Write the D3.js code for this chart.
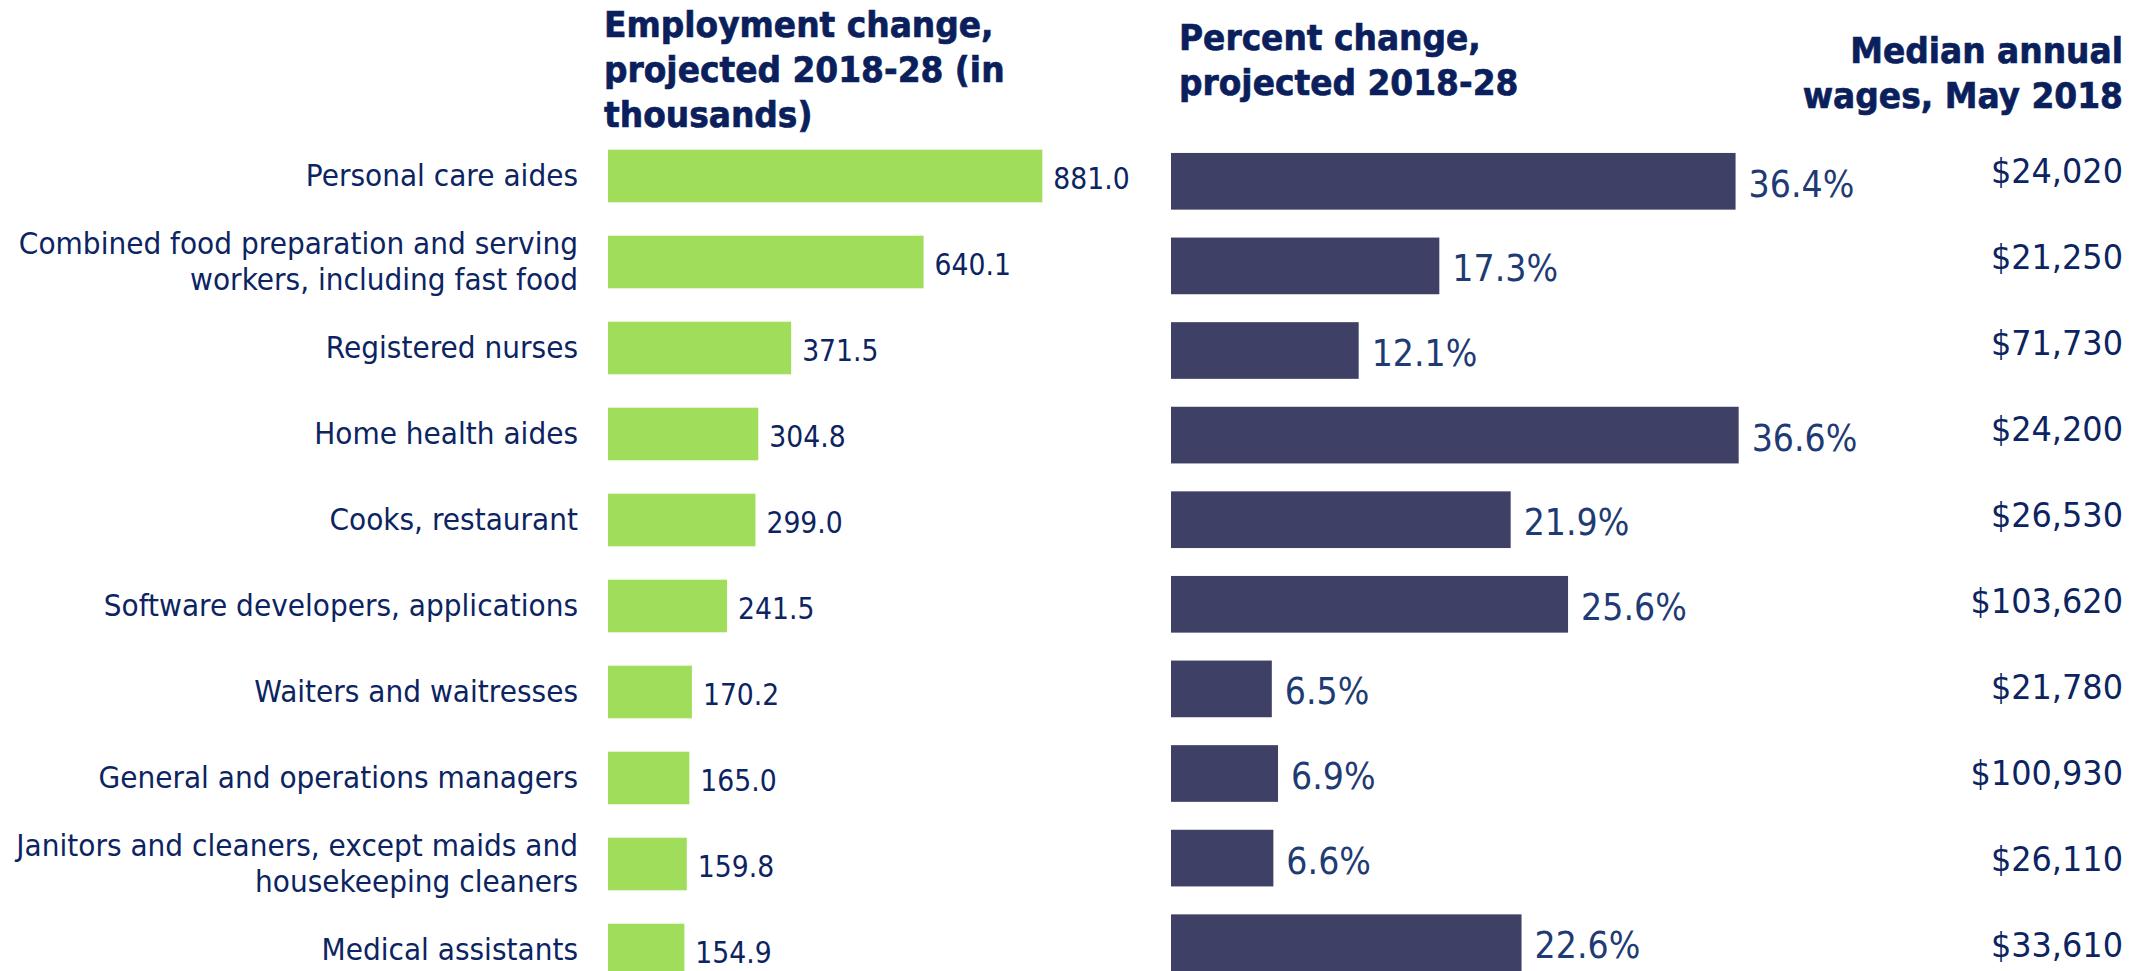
<!DOCTYPE html>
<html>
<head>
<meta charset="utf-8">
<script src="https://cdn.jsdelivr.net/npm/d3@7"></script>
<style>
  html, body { margin: 0; padding: 0; background: #fff; }
  svg { display: block; }
</style>
</head>
<body>
<svg id="chart"></svg>
<script>
/* Fastest-growing occupations: employment change, percent change and wages.
 * Three columns share one row per occupation; text is drawn slightly
 * condensed to mimic the Tahoma face of the original.
 */
(function () {
    "use strict";

    var occupations = [
        "Personal care aides",
        "Combined food preparation and serving workers, including fast food",
        "Registered nurses",
        "Home health aides",
        "Cooks, restaurant",
        "Software developers, applications",
        "Waiters and waitresses",
        "General and operations managers",
        "Janitors and cleaners, except maids and housekeeping cleaners",
        "Medical assistants"
    ];
    var occupationLines = [
        ["Personal care aides"],
        ["Combined food preparation and serving", "workers, including fast food"],
        ["Registered nurses"],
        ["Home health aides"],
        ["Cooks, restaurant"],
        ["Software developers, applications"],
        ["Waiters and waitresses"],
        ["General and operations managers"],
        ["Janitors and cleaners, except maids and", "housekeeping cleaners"],
        ["Medical assistants"]
    ];
    var employmentChange = [881.0, 640.1, 371.5, 304.8, 299.0, 241.5, 170.2, 165.0, 159.8, 154.9];
    var percentChange = [36.4, 17.3, 12.1, 36.6, 21.9, 25.6, 6.5, 6.9, 6.6, 22.6];
    var medianWages = [24020, 21250, 71730, 24200, 26530, 103620, 21780, 100930, 26110, 33610];

    var headerEmployment = ["Employment change,", "projected 2018-28 (in", "thousands)"];
    var headerPercent = ["Percent change,", "projected 2018-28"];
    var headerWages = ["Median annual", "wages, May 2018"];

    var width = 2144, height = 971;
    var navy = "#0c2461", pctBlue = "#1f3b73", headNavy = "#0a1f5c";
    var green = "#a0dd5a", slate = "#3e4066";
    var font = "'DejaVu Sans', Verdana, sans-serif";

    var rows = occupations.map(function (name, i) {
        return {
            name: name,
            lines: occupationLines[i],
            emp: employmentChange[i],
            pct: percentChange[i],
            wage: medianWages[i]
        };
    });

    var svg = d3.select("#chart")
        .attr("width", width)
        .attr("height", height)
        .attr("viewBox", "0 0 " + width + " " + height)
        .style("font-family", font);

    // row bands: employment column and wages share one, percent column is a touch tighter
    var yEmp = d3.scaleBand()
        .domain(occupations)
        .range([133, 993])
        .paddingInner(0.388)
        .paddingOuter(0.194);

    var yPct = d3.scaleBand()
        .domain(occupations)
        .range([139, 985])
        .paddingInner(0.33)
        .paddingOuter(0.165);

    var xEmp = d3.scaleLinear().domain([0, 1000]).range([608, 1101]);
    var xPct = d3.scaleLinear().domain([0, 40]).range([1171, 1791.4]);

    var fmtEmp = d3.format(".1f");
    var fmtPct = function (v) { return d3.format(".1f")(v) + "%"; };
    var fmtWage = d3.format("$,");

    function place(x, y, sx) {
        return "translate(" + x + "," + y + ") scale(" + sx + ",1)";
    }

    // column headers
    function header(lines, x, y, anchor) {
        var t = svg.append("text")
            .attr("transform", place(x, y, 0.94))
            .attr("text-anchor", anchor)
            .attr("fill", headNavy)
            .attr("stroke", headNavy)
            .attr("stroke-width", 0.7)
            .style("font-size", "35px")
            .style("font-weight", "bold");
        lines.forEach(function (line, i) {
            t.append("tspan").attr("x", 0).attr("dy", i ? 44.7 : 0).text(line);
        });
    }
    header(headerEmployment, 604, 37.3, "start");
    header(headerPercent, 1179, 50, "start");
    header(headerWages, 2123, 63.3, "end");

    // occupation labels
    var labels = svg.append("g")
        .selectAll("text")
        .data(rows)
        .join("text")
        .attr("transform", function (d) {
            var c = yEmp(d.name) + yEmp.bandwidth() / 2;
            var first = c + 9.9 - (d.lines.length - 1) * 18.4;
            return place(578, first, 0.95);
        })
        .attr("text-anchor", "end")
        .attr("fill", navy)
        .style("font-size", "29.5px");
    labels.selectAll("tspan")
        .data(function (d) { return d.lines; })
        .join("tspan")
        .attr("x", 0)
        .attr("dy", function (d, i) { return i ? 36.8 : 0; })
        .text(function (d) { return d; });

    // employment change bars
    svg.append("g")
        .selectAll("rect")
        .data(rows)
        .join("rect")
        .attr("x", xEmp(0))
        .attr("y", function (d) { return yEmp(d.name); })
        .attr("width", function (d) { return xEmp(d.emp) - xEmp(0); })
        .attr("height", yEmp.bandwidth())
        .attr("fill", green);

    svg.append("g")
        .selectAll("text")
        .data(rows)
        .join("text")
        .attr("transform", function (d) {
            return place(xEmp(d.emp) + 11, yEmp(d.name) + yEmp.bandwidth() / 2 + 13, 0.89);
        })
        .attr("fill", navy)
        .style("font-size", "30px")
        .text(function (d) { return fmtEmp(d.emp); });

    // percent change bars
    svg.append("g")
        .selectAll("rect")
        .data(rows)
        .join("rect")
        .attr("x", xPct(0))
        .attr("y", function (d) { return yPct(d.name); })
        .attr("width", function (d) { return xPct(d.pct) - xPct(0); })
        .attr("height", yPct.bandwidth())
        .attr("fill", slate);

    svg.append("g")
        .selectAll("text")
        .data(rows)
        .join("text")
        .attr("transform", function (d) {
            return place(xPct(d.pct) + 13, yPct(d.name) + yPct.bandwidth() / 2 + 15.5, 0.9);
        })
        .attr("fill", pctBlue)
        .style("font-size", "37px")
        .text(function (d) { return fmtPct(d.pct); });

    // median wages
    svg.append("g")
        .selectAll("text")
        .data(rows)
        .join("text")
        .attr("transform", function (d) {
            return place(2123, yEmp(d.name) + yEmp.bandwidth() / 2 + 7.4, 0.94);
        })
        .attr("text-anchor", "end")
        .attr("fill", navy)
        .style("font-size", "34px")
        .text(function (d) { return fmtWage(d.wage); });
})();
</script>
</body>
</html>
